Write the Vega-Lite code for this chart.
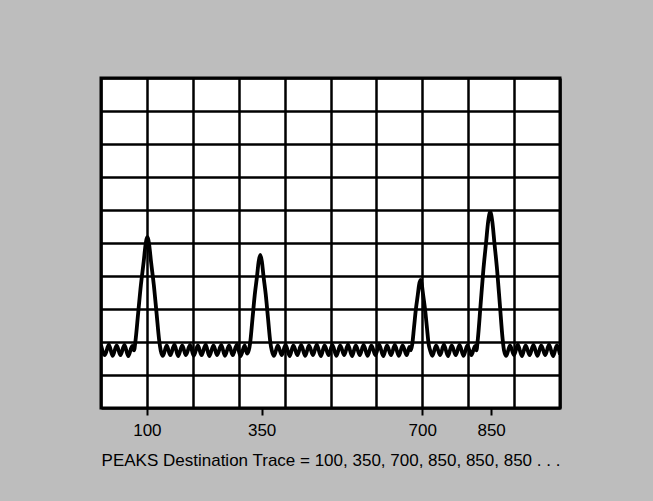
{
  "$schema": "https://vega.github.io/schema/vega-lite/v6.json",
  "width": 459,
  "height": 330,
  "autosize": {"type": "none"},
  "padding": {"left": 101, "top": 78, "right": 93, "bottom": 93},
  "background": "#bdbdbd",
  "config": {
    "view": {"fill": "white", "stroke": "black", "strokeWidth": 3},
    "font": "Liberation Sans"
  },
  "data": {
    "values": [
      {"x": 0, "y": 1.9}, {"x": 8.5, "y": 1.6}, {"x": 17, "y": 1.92}, {"x": 25.5, "y": 1.58},
      {"x": 34, "y": 1.9}, {"x": 42.5, "y": 1.6}, {"x": 51, "y": 1.91}, {"x": 59.5, "y": 1.57},
      {"x": 68, "y": 1.88},
      {"x": 72, "y": 1.75}, {"x": 75, "y": 2.02}, {"x": 81, "y": 2.88}, {"x": 87, "y": 3.74},
      {"x": 93, "y": 4.43}, {"x": 97, "y": 4.94}, {"x": 101, "y": 5.18}, {"x": 105, "y": 4.94},
      {"x": 109, "y": 4.43}, {"x": 115, "y": 3.74}, {"x": 121, "y": 2.88}, {"x": 127, "y": 2.02},
      {"x": 130, "y": 1.75},
      {"x": 135, "y": 1.58}, {"x": 143, "y": 1.9}, {"x": 151, "y": 1.6}, {"x": 160, "y": 1.92},
      {"x": 168, "y": 1.57}, {"x": 177, "y": 1.9}, {"x": 185, "y": 1.6}, {"x": 194, "y": 1.91},
      {"x": 202, "y": 1.58}, {"x": 211, "y": 1.9}, {"x": 219, "y": 1.6}, {"x": 228, "y": 1.92},
      {"x": 236, "y": 1.57}, {"x": 245, "y": 1.9}, {"x": 253, "y": 1.6}, {"x": 262, "y": 1.91},
      {"x": 270, "y": 1.58}, {"x": 279, "y": 1.9}, {"x": 287, "y": 1.6}, {"x": 296, "y": 1.92},
      {"x": 304, "y": 1.57}, {"x": 313, "y": 1.9}, {"x": 318, "y": 1.65},
      {"x": 322, "y": 1.75}, {"x": 325, "y": 1.98}, {"x": 330, "y": 2.7}, {"x": 335, "y": 3.43},
      {"x": 340, "y": 4.0}, {"x": 343.5, "y": 4.44}, {"x": 347, "y": 4.64}, {"x": 350.5, "y": 4.44},
      {"x": 354, "y": 4.0}, {"x": 359, "y": 3.43}, {"x": 364, "y": 2.7}, {"x": 369, "y": 1.98},
      {"x": 372, "y": 1.75},
      {"x": 377, "y": 1.58}, {"x": 385, "y": 1.9}, {"x": 394, "y": 1.6}, {"x": 402, "y": 1.92},
      {"x": 411, "y": 1.57}, {"x": 419, "y": 1.9}, {"x": 428, "y": 1.6}, {"x": 436, "y": 1.91},
      {"x": 445, "y": 1.58}, {"x": 453, "y": 1.9}, {"x": 462, "y": 1.6}, {"x": 470, "y": 1.92},
      {"x": 479, "y": 1.57}, {"x": 487, "y": 1.9}, {"x": 496, "y": 1.6}, {"x": 504, "y": 1.91},
      {"x": 513, "y": 1.58}, {"x": 521, "y": 1.9}, {"x": 530, "y": 1.6}, {"x": 538, "y": 1.92},
      {"x": 547, "y": 1.57}, {"x": 555, "y": 1.9}, {"x": 564, "y": 1.6}, {"x": 572, "y": 1.91},
      {"x": 581, "y": 1.58}, {"x": 589, "y": 1.9}, {"x": 598, "y": 1.6}, {"x": 606, "y": 1.92},
      {"x": 615, "y": 1.57}, {"x": 623, "y": 1.9}, {"x": 632, "y": 1.6}, {"x": 640, "y": 1.91},
      {"x": 649, "y": 1.58}, {"x": 657, "y": 1.9}, {"x": 666, "y": 1.6}, {"x": 672, "y": 1.85},
      {"x": 675, "y": 1.75}, {"x": 678, "y": 1.92}, {"x": 682, "y": 2.45}, {"x": 686, "y": 2.99},
      {"x": 690, "y": 3.41}, {"x": 693, "y": 3.73}, {"x": 696, "y": 3.88}, {"x": 699, "y": 3.73},
      {"x": 702, "y": 3.41}, {"x": 706, "y": 2.99}, {"x": 710, "y": 2.45}, {"x": 714, "y": 1.92},
      {"x": 717, "y": 1.75},
      {"x": 722, "y": 1.58}, {"x": 730, "y": 1.9}, {"x": 739, "y": 1.6}, {"x": 747, "y": 1.92},
      {"x": 756, "y": 1.57}, {"x": 764, "y": 1.9}, {"x": 773, "y": 1.6}, {"x": 781, "y": 1.91},
      {"x": 790, "y": 1.58}, {"x": 798, "y": 1.9}, {"x": 807, "y": 1.6}, {"x": 815, "y": 1.88},
      {"x": 818, "y": 1.75}, {"x": 821, "y": 2.09}, {"x": 827, "y": 3.13}, {"x": 833, "y": 4.18},
      {"x": 839, "y": 5.02}, {"x": 843.5, "y": 5.65}, {"x": 848, "y": 5.94}, {"x": 852.5, "y": 5.65},
      {"x": 857, "y": 5.02}, {"x": 863, "y": 4.18}, {"x": 869, "y": 3.13}, {"x": 875, "y": 2.09},
      {"x": 878, "y": 1.75},
      {"x": 883, "y": 1.58}, {"x": 891, "y": 1.9}, {"x": 900, "y": 1.6}, {"x": 908, "y": 1.92},
      {"x": 917, "y": 1.57}, {"x": 925, "y": 1.9}, {"x": 934, "y": 1.6}, {"x": 942, "y": 1.91},
      {"x": 951, "y": 1.58}, {"x": 959, "y": 1.9}, {"x": 968, "y": 1.6}, {"x": 976, "y": 1.92},
      {"x": 985, "y": 1.57}, {"x": 993, "y": 1.9}, {"x": 1000, "y": 1.62}
    ]
  },
  "resolve": {"axis": {"x": "independent"}},
  "layer": [
    {
      "mark": {"type": "line", "opacity": 0},
      "encoding": {
        "x": {
          "field": "x", "type": "quantitative",
          "scale": {"domain": [0, 1000], "nice": false, "zero": false},
          "axis": {
            "orient": "top", "values": [0, 100, 200, 300, 400, 500, 600, 700, 800, 900, 1000], "tickCount": 20,
            "grid": true, "gridColor": "black", "gridWidth": 2.5, "gridOpacity": 1,
            "labels": false, "ticks": false, "domain": false, "title": null
          }
        },
        "y": {
          "field": "y", "type": "quantitative",
          "scale": {"domain": [0, 10], "nice": false, "zero": false},
          "axis": {
            "values": [0, 1, 2, 3, 4, 5, 6, 7, 8, 9, 10], "tickCount": 20,
            "grid": true, "gridColor": "black", "gridWidth": 2.5, "gridOpacity": 1,
            "labels": false, "ticks": false, "domain": false, "title": null
          }
        }
      }
    },
    {
      "mark": {"type": "line", "color": "black", "strokeWidth": 3.8, "interpolate": "monotone", "clip": true},
      "encoding": {
        "x": {
          "field": "x", "type": "quantitative",
          "scale": {"domain": [0, 1000], "nice": false, "zero": false},
          "axis": {
            "orient": "bottom", "values": [100, 350, 700, 850], "grid": false, "domain": false,
            "ticks": true, "tickSize": 7, "tickWidth": 2, "tickColor": "black",
            "labelFontSize": 17, "labelColor": "black", "labelPadding": 7,
            "title": "PEAKS Destination Trace = 100, 350, 700, 850, 850, 850 . . .",
            "titleFontSize": 17, "titleFontWeight": "normal", "titleColor": "black", "titlePadding": 14
          }
        },
        "y": {
          "field": "y", "type": "quantitative",
          "scale": {"domain": [0, 10], "nice": false, "zero": false},
          "axis": {
            "values": [0, 1, 2, 3, 4, 5, 6, 7, 8, 9, 10], "tickCount": 20,
            "grid": true, "gridColor": "black", "gridWidth": 2.5, "gridOpacity": 1,
            "labels": false, "ticks": false, "domain": false, "title": null
          }
        }
      }
    }
  ]
}
